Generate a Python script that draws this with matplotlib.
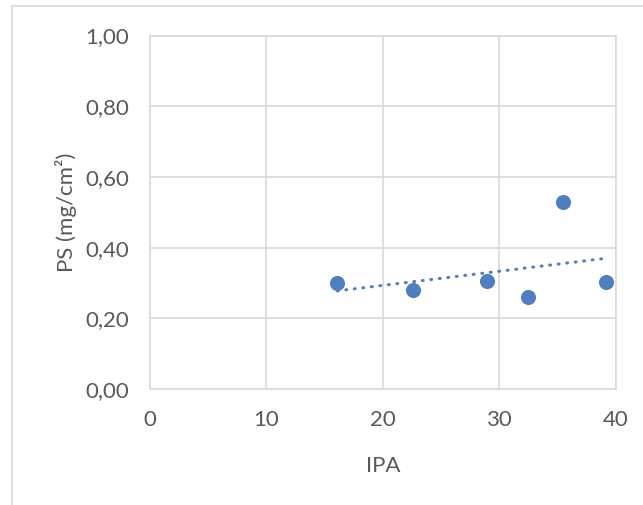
import matplotlib
matplotlib.use('Agg')
import matplotlib.pyplot as plt
import matplotlib.patches as mpatches
from matplotlib.ticker import FuncFormatter
import numpy as np

# data
ipa = [16.1, 22.6, 29.0, 32.5, 35.5, 39.2]
ps = [0.301, 0.280, 0.306, 0.260, 0.528, 0.303]
x_ticks = [0, 10, 20, 30, 40]
y_ticks = [0.0, 0.2, 0.4, 0.6, 0.8, 1.0]

BLUE = '#4f7fbe'
GRID = '#d9d9d9'
TEXT = '#595959'

plt.rcParams['font.family'] = ['Lato', 'DejaVu Sans']

fig = plt.figure(figsize=(6.43, 5.05), dpi=100)
ax = fig.add_axes([150 / 643, 1 - 389 / 505, 465.5 / 643, 353.5 / 505])

# chart-area border (Excel style)
fig.patches.append(mpatches.Rectangle(
    (11.5 / 643, -0.1), 1.2, 1.1 - 5.5 / 505,
    transform=fig.transFigure, fill=False, edgecolor=GRID, linewidth=1.2))

ax.scatter(ipa, ps, s=118, color=BLUE, zorder=3, linewidths=0)

# linear trendline
k, b = np.polyfit(ipa, ps, 1)
xs = np.array([min(ipa), max(ipa)])
ax.plot(xs, k * xs + b, color=BLUE, linewidth=2.2,
        dashes=(0.3, 2.5), dash_capstyle='round', zorder=2)

ax.set_xlim(0, 40)
ax.set_ylim(0, 1)
ax.set_xticks(x_ticks)
ax.set_yticks(y_ticks)
ax.yaxis.set_major_formatter(FuncFormatter(lambda v, p: f"{v:.2f}".replace('.', ',')))
ax.grid(True, color=GRID, linewidth=1.2)
ax.set_axisbelow(True)
for s in ax.spines.values():
    s.set_color(GRID)
    s.set_linewidth(1.2)
ax.tick_params(length=0, labelsize=16, colors=TEXT)
ax.tick_params(axis='y', pad=15)
ax.tick_params(axis='x', pad=15)

fig.text(66 / 643, 1 - 212 / 505, 'PS (mg/cm²)', rotation=90,
         ha='center', va='center', fontsize=16, color=TEXT)
fig.text(383 / 643, 1 - 466 / 505, 'IPA',
         ha='center', va='center', fontsize=16, color=TEXT)

fig.savefig('out.png', dpi=100, facecolor='white')
